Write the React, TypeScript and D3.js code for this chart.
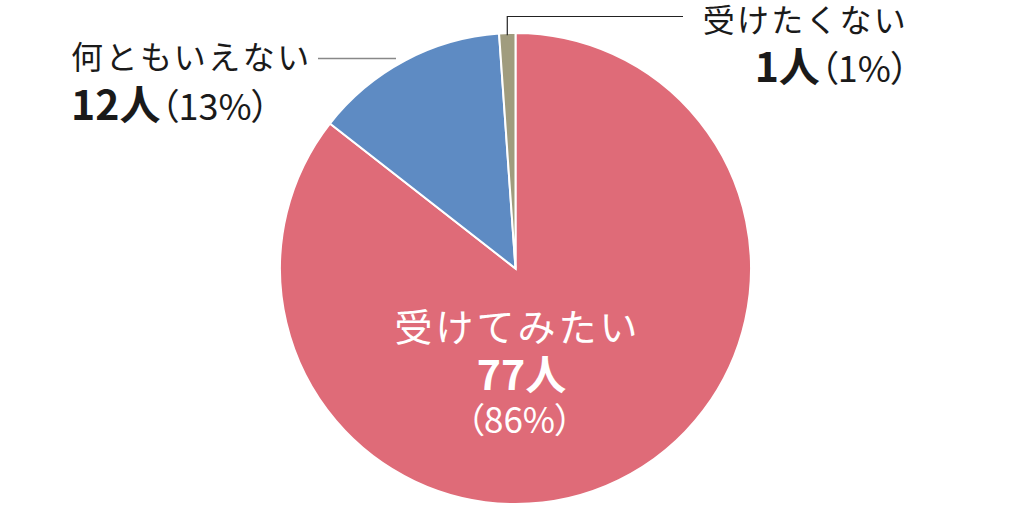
import React from "react";
import * as d3 from "d3";

const categories = ["受けてみたい", "何ともいえない", "受けたくない"];
const counts = [77, 12, 1];
const percents = [86, 13, 1];
const colors = ["#DF6B78", "#5E8BC3", "#A09C7E"];

const W = 1030;
const H = 507;
const FONT = "'Noto Sans CJK JP', 'Noto Sans', sans-serif";
const PALT: React.CSSProperties = { fontFeatureSettings: '"palt"' };

export default function App() {
  const cx = 515.5;
  const cy = 268.5;
  const r = 235.5;
  const pie = d3.pie<number>().sort(null).value((d) => d);
  const arcs = pie(counts);
  const arc = d3.arc<d3.PieArcDatum<number>>().innerRadius(0).outerRadius(r);

  const greyMid = (arcs[2].startAngle + arcs[2].endAngle) / 2;
  const gx = cx + r * Math.sin(greyMid);
  const gy = cy - r * Math.cos(greyMid);

  return (
    <svg width={W} height={H} style={{ position: "absolute", left: 0, top: 0 }} fontFamily={FONT}>
      <rect width={W} height={H} fill="#fff" />
      <g transform={`translate(${cx},${cy})`}>
        {arcs.map((a, i) => (
          <path key={i} d={arc(a) || ""} fill={colors[i]} stroke="#fff" strokeWidth={2} />
        ))}
      </g>
      {/* left leader */}
      <line x1={318} y1={58.5} x2={396} y2={58.5} stroke="#888" strokeWidth={1.5} />
      {/* right leader */}
      <polyline
        points={`${gx},${gy + 2} ${gx},16.5 683,16.5`}
        fill="none"
        stroke="#222"
        strokeWidth={1.2}
      />
      {/* left label */}
      <text x={71} y={69} fontSize={32} letterSpacing={2.5} fill="#1a1a1a">{categories[1]}</text>
      <text x={71} y={120} fill="#1a1a1a">
        <tspan fontSize={41} fontWeight={700}>{counts[1]}人</tspan>
        <tspan fontSize={36} style={PALT}>（{percents[1]}%）</tspan>
      </text>
      {/* right label */}
      <text x={908} y={32} fontSize={32} letterSpacing={2.2} fill="#1a1a1a" textAnchor="end">{categories[2]}</text>
      <text x={909} y={82} fill="#1a1a1a" textAnchor="end">
        <tspan fontSize={41} fontWeight={700}>{counts[2]}人</tspan>
        <tspan fontSize={36} style={PALT}>（{percents[2]}%）</tspan>
      </text>
      {/* center label */}
      <text x={cx + 2} y={341} fontSize={38} letterSpacing={3} fill="#fff" textAnchor="middle">{categories[0]}</text>
      <text x={cx + 6} y={390} fontSize={41} fontWeight={700} fill="#fff" textAnchor="middle">{counts[0]}人</text>
      <text x={cx + 4} y={433} fontSize={35} fill="#fff" textAnchor="middle" style={PALT}>（{percents[0]}%）</text>
    </svg>
  );
}
